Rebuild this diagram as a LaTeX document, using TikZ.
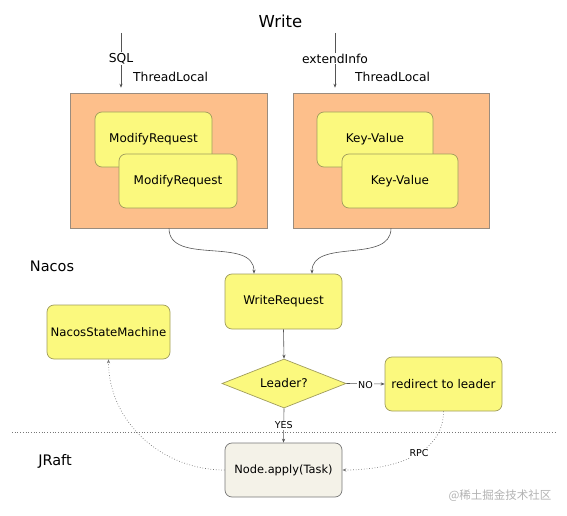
\documentclass[tikz,border=0pt]{standalone}
\usepackage{fontspec}
\setmainfont{DejaVu Sans}
\newfontfamily\cjkfont{Noto Sans CJK SC}
\usetikzlibrary{arrows.meta,shapes.geometric}
\definecolor{peach}{HTML}{FDBF8B}
\definecolor{peachline}{HTML}{9A8C7E}
\definecolor{yel}{HTML}{FBF97E}
\definecolor{yelline}{HTML}{A09C5C}
\definecolor{beige}{HTML}{F4F2E8}
\definecolor{lnc}{HTML}{555555}
\tikzset{
  outerbox/.style={draw=peachline, fill=peach, line width=0.6pt, minimum width=#1, minimum height=135pt, inner sep=0pt},
  ybox/.style={draw=yelline, fill=yel, line width=0.7pt, rounded corners=7pt, font=\fontsize{12}{14}\selectfont, inner sep=0pt},
  arr/.style={draw=lnc, line width=0.6pt, -{Stealth[length=4pt,width=3.2pt]}},
  dotarr/.style={draw=lnc!80, line width=0.7pt, dotted, -{Stealth[length=4pt,width=3.2pt]}},
  small/.style={font=\fontsize{9.5}{11}\selectfont, fill=white, inner sep=1pt},
  toplbl/.style={font=\fontsize{12.3}{14}\selectfont, inner sep=1pt},
  region/.style={font=\fontsize{14.5}{17}\selectfont, inner sep=0pt},
}
\begin{document}
\begin{tikzpicture}[x=1pt,y=-1pt]
\useasboundingbox (0,0) rectangle (567,516);

% titles
\node[font=\fontsize{16.5}{19}\selectfont, inner sep=0pt] (write) at (280.5,21) {Write};
\node[region] (nacos) at (52,266) {Nacos};
\node[region] (jraft) at (55,461) {JRaft};

% separator
\coordinate (sepL) at (12,432);
\coordinate (sepR) at (555,432);
\draw[lnc!80, line width=0.7pt, dotted] (sepL) -- (sepR);

% outer boxes
\node[outerbox=197pt] (lbox) at (169,160.5) {};
\node[outerbox=196pt] (rbox) at (391,160.5) {};

% inner boxes
\node[ybox, minimum width=117pt, minimum height=55pt] (mr1) at (153.5,139.5) {ModifyRequest};
\node[ybox, minimum width=118pt, minimum height=54pt] (mr2) at (178,181) {ModifyRequest};
\node[ybox, minimum width=116pt, minimum height=55pt] (kv1) at (375,139.5) {Key-Value};
\node[ybox, minimum width=116pt, minimum height=54pt] (kv2) at (400,181) {Key-Value};

% nodes
\node[ybox, minimum width=117pt, minimum height=55pt] (wr) at (283.5,301.5) {WriteRequest};
\node[ybox, minimum width=123pt, minimum height=54pt, font=\fontsize{11.7}{14}\selectfont] (nsm) at (108.5,332) {NacosStateMachine};
\node[ybox, rounded corners=0pt, shape=diamond, minimum width=124pt, minimum height=49pt, inner sep=0pt, shape aspect=2.5] (leader) at (284,383.5) {Leader?};
\node[ybox, minimum width=117pt, minimum height=54pt] (redir) at (443.5,384) {redirect to leader};
\node[ybox, draw=lnc!80, fill=beige, font=\fontsize{11.4}{13}\selectfont, minimum width=117pt, minimum height=54pt] (apply) at (283.5,470) {Node.apply(Task)};

% top arrows
\coordinate (t1) at (121,33);
\coordinate (t2) at (335,33);
\draw[arr, shorten >=5pt] (t1) -- node[toplbl, fill=white, pos=0.43] (sql) {SQL} (t1 |- lbox.north);
\draw[arr, shorten >=5pt] (t2) -- node[toplbl, fill=white, pos=0.43] (ext) {extendInfo} (t2 |- rbox.north);
\node[toplbl, anchor=west] (tl1) at (132,77) {ThreadLocal};
\node[toplbl, anchor=west] (tl2) at (354,77) {ThreadLocal};

% curves into WriteRequest
\draw[arr] (lbox.south) to[out=-90, in=90] ([xshift=-29.5pt]wr.north);
\draw[arr] (rbox.south) to[out=-90, in=90] ([xshift=28.5pt]wr.north);

\draw[arr] (wr.south) -- (leader.north);
\draw[arr] (leader.east) -- node[small, yshift=-1.5pt] (no) {NO} (redir.west);
\draw[arr] (leader.south) -- node[small] (yes) {YES} (apply.north);

\draw[dotarr] (redir.south) to[out=-90, in=0] node[small, pos=0.42] (rpc) {RPC} (apply.east);
\draw[dotarr] (apply.west) to[out=180, in=-90] (nsm.south);

% watermark
\node[font=\cjkfont\fontsize{11.5}{13}\selectfont, text=black!30, inner sep=0pt] (wm) at (500,496) {@稀土掘金技术社区};
\end{tikzpicture}
\end{document}
